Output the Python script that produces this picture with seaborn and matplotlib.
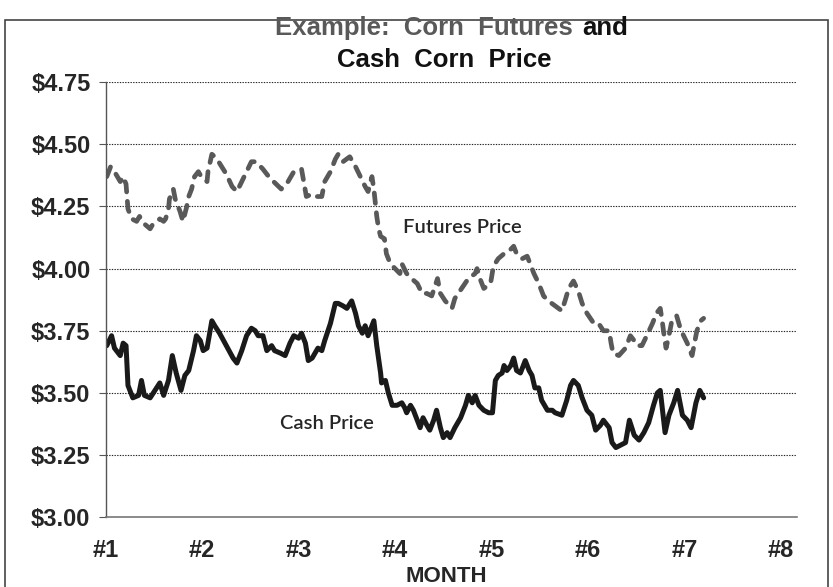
import matplotlib
matplotlib.use("Agg")
import matplotlib.pyplot as plt
import seaborn as sns
from matplotlib.patches import Rectangle

# Futures price (month position, $/bu)
fut_month = [1.01, 1.05, 1.09, 1.15, 1.18, 1.21, 1.23, 1.27, 1.32, 1.35, 1.40, 1.46, 1.49, 1.53,
             1.56, 1.60, 1.62, 1.65, 1.66, 1.70, 1.72, 1.75, 1.77, 1.80, 1.84, 1.85, 1.89, 1.92,
             1.96, 1.99, 2.05, 2.06, 2.10, 2.13, 2.17, 2.25, 2.31, 2.36, 2.41, 2.46, 2.51,
             2.53, 2.56, 2.63, 2.69, 2.74, 2.82, 2.89, 2.95, 3.03, 3.08, 3.14, 3.19, 3.24, 3.27,
             3.33, 3.38, 3.41, 3.46, 3.53, 3.59, 3.64, 3.69, 3.72, 3.76, 3.78, 3.81, 3.83, 3.85,
             3.89, 3.91, 3.95, 4.05, 4.07, 4.12, 4.17, 4.23, 4.28, 4.33, 4.38, 4.44, 4.47, 4.52,
             4.59, 4.62, 4.69, 4.76, 4.83, 4.85, 4.88, 4.92, 4.99, 5.02, 5.07, 5.13, 5.18, 5.23,
             5.26, 5.32, 5.37, 5.40, 5.44, 5.49, 5.54, 5.59, 5.66, 5.73, 5.77, 5.80, 5.85, 5.90,
             5.94, 5.99, 6.06, 6.11, 6.16, 6.22, 6.24, 6.26, 6.32, 6.39, 6.44, 6.48, 6.51, 6.56,
             6.61, 6.67, 6.71, 6.75, 6.77, 6.79, 6.81, 6.84, 6.87, 6.92, 6.95, 6.98, 7.03, 7.08,
             7.10, 7.13, 7.17, 7.20]
fut_price = [4.37, 4.41, 4.39, 4.35, 4.37, 4.34, 4.24, 4.20, 4.19, 4.21, 4.18, 4.16, 4.18, 4.19,
             4.20, 4.19, 4.20, 4.24, 4.28, 4.32, 4.28, 4.25, 4.23, 4.19, 4.25, 4.28, 4.32, 4.37,
             4.39, 4.37, 4.35, 4.39, 4.46, 4.45, 4.43, 4.38, 4.33, 4.31, 4.35, 4.39, 4.43,
             4.43, 4.43, 4.40, 4.37, 4.35, 4.32, 4.35, 4.39, 4.40, 4.29, 4.30, 4.29, 4.29, 4.35,
             4.39, 4.44, 4.46, 4.43, 4.45, 4.41, 4.37, 4.33, 4.31, 4.37, 4.32, 4.21, 4.16, 4.13,
             4.12, 4.06, 4.02, 3.98, 4.02, 3.98, 3.96, 3.94, 3.90, 3.90, 3.89, 3.96, 3.90, 3.87,
             3.84, 3.88, 3.92, 3.96, 3.98, 4.00, 3.96, 3.92, 3.94, 4.01, 4.04, 4.06, 4.07, 4.09,
             4.06, 4.04, 4.05, 4.02, 3.98, 3.94, 3.89, 3.87, 3.85, 3.83, 3.88, 3.92, 3.95, 3.91,
             3.86, 3.82, 3.78, 3.78, 3.75, 3.75, 3.70, 3.66, 3.65, 3.68, 3.73, 3.71, 3.69, 3.69,
             3.73, 3.78, 3.82, 3.84, 3.79, 3.73, 3.68, 3.73, 3.79, 3.81, 3.77, 3.74, 3.70, 3.65,
             3.69, 3.75, 3.79, 3.80]

# Cash price (month position, $/bu)
cash_month = [1.01, 1.06, 1.09, 1.15, 1.18, 1.21, 1.23, 1.28, 1.34, 1.37, 1.40, 1.46, 1.51, 1.56,
              1.60, 1.65, 1.69, 1.73, 1.78, 1.82, 1.86, 1.91, 1.94, 1.98, 2.01, 2.05, 2.10, 2.13,
              2.18, 2.25, 2.32, 2.36, 2.41, 2.46, 2.51, 2.55, 2.58, 2.63, 2.67, 2.72, 2.75, 2.81,
              2.86, 2.91, 2.95, 3.00, 3.03, 3.07, 3.10, 3.14, 3.17, 3.20, 3.24, 3.27, 3.33, 3.38,
              3.41, 3.46, 3.50, 3.55, 3.59, 3.62, 3.66, 3.69, 3.72, 3.78, 3.81, 3.85, 3.86, 3.90,
              3.93, 3.97, 4.02, 4.07, 4.10, 4.12, 4.16, 4.19, 4.23, 4.26, 4.29, 4.33, 4.36, 4.40,
              4.43, 4.47, 4.50, 4.54, 4.57, 4.62, 4.68, 4.73, 4.76, 4.80, 4.83, 4.87, 4.92, 4.97,
              5.01, 5.04, 5.07, 5.11, 5.13, 5.16, 5.20, 5.23, 5.26, 5.30, 5.35, 5.39, 5.42, 5.45,
              5.49, 5.52, 5.58, 5.63, 5.66, 5.73, 5.78, 5.82, 5.85, 5.90, 5.94, 5.99, 6.04, 6.08,
              6.13, 6.16, 6.22, 6.25, 6.29, 6.34, 6.39, 6.43, 6.48, 6.53, 6.58, 6.63, 6.68, 6.72,
              6.75, 6.80, 6.84, 6.89, 6.93, 6.98, 7.03, 7.07, 7.12, 7.16, 7.20]
cash_price = [3.69, 3.73, 3.68, 3.65, 3.70, 3.69, 3.53, 3.48, 3.49, 3.55, 3.49, 3.48, 3.51, 3.54,
              3.49, 3.55, 3.65, 3.58, 3.51, 3.57, 3.59, 3.67, 3.73, 3.71, 3.67, 3.68, 3.79, 3.77,
              3.74, 3.69, 3.64, 3.62, 3.67, 3.73, 3.76, 3.75, 3.73, 3.73, 3.67, 3.69, 3.67, 3.66,
              3.65, 3.70, 3.73, 3.72, 3.74, 3.70, 3.63, 3.64, 3.66, 3.68, 3.67, 3.71, 3.78, 3.86,
              3.86, 3.85, 3.84, 3.87, 3.82, 3.77, 3.74, 3.77, 3.73, 3.79, 3.69, 3.58, 3.54, 3.55,
              3.50, 3.45, 3.45, 3.46, 3.44, 3.42, 3.45, 3.43, 3.39, 3.36, 3.40, 3.37, 3.35, 3.39,
              3.43, 3.36, 3.32, 3.34, 3.32, 3.36, 3.40, 3.45, 3.49, 3.46, 3.49, 3.45, 3.43, 3.42,
              3.42, 3.55, 3.57, 3.58, 3.61, 3.59, 3.61, 3.64, 3.59, 3.58, 3.63, 3.59, 3.57, 3.52,
              3.52, 3.47, 3.43, 3.43, 3.42, 3.41, 3.47, 3.53, 3.55, 3.53, 3.48, 3.43, 3.41, 3.35,
              3.37, 3.39, 3.36, 3.30, 3.28, 3.29, 3.30, 3.39, 3.33, 3.31, 3.34, 3.38, 3.45, 3.50,
              3.51, 3.34, 3.41, 3.46, 3.51, 3.41, 3.39, 3.36, 3.46, 3.51, 3.48]

month_ticks = [1, 2, 3, 4, 5, 6, 7, 8]
month_labels = ["#1", "#2", "#3", "#4", "#5", "#6", "#7", "#8"]
price_ticks = [3.00, 3.25, 3.50, 3.75, 4.00, 4.25, 4.50, 4.75]

sns.set_style("white")
narrow = ["Liberation Sans Narrow", "Liberation Sans", "DejaVu Sans"]
plt.rcParams["font.family"] = narrow

fig = plt.figure(figsize=(8.33, 5.87), dpi=100)
ax = fig.add_axes([0.127, 0.119, 0.830, 0.741])

sns.lineplot(x=fut_month, y=fut_price, ax=ax, color="#595959", linewidth=3.4,
             linestyle=(0, (2.2, 2.0)), dash_capstyle="round", sort=False)
sns.lineplot(x=cash_month, y=cash_price, ax=ax, color="#1a1a1a", linewidth=3.6,
             solid_joinstyle="round", sort=False)

ax.set_xlim(1, 8.17)
ax.set_ylim(3.0, 4.75)
ax.set_yticks(price_ticks)
ax.set_yticklabels(["${:.2f}".format(v) for v in price_ticks], fontsize=17, fontweight="bold")
ax.set_xticks(month_ticks)
ax.set_xticklabels(month_labels, fontsize=17, fontweight="bold")
ax.set_xlabel("MONTH", fontsize=16, fontweight="bold")
ax.xaxis.set_label_coords(0.493, -0.112)
ax.set_ylabel("")

for v in price_ticks[1:]:
    ax.axhline(v, color="#222222", linewidth=0.8, linestyle=(0, (1.2, 1.2)), zorder=0)

for side in ["top", "right"]:
    ax.spines[side].set_visible(False)
ax.spines["left"].set_color("#555555")
ax.spines["bottom"].set_color("#777777")
ax.spines["left"].set_linewidth(1.0)
ax.spines["bottom"].set_linewidth(1.2)
ax.tick_params(axis="y", length=5, width=0.8, color="#555555", pad=6, direction="out", left=True)
ax.tick_params(axis="x", length=0, pad=16)

ann = ["Lato", "DejaVu Sans"]
ax.text(4.70, 4.165, "Futures Price", fontsize=14.5, fontweight="semibold", family=ann,
        ha="center", va="center")
ax.text(3.29, 3.375, "Cash Price", fontsize=14.5, fontweight="semibold", family=ann,
        ha="center", va="center")

# two-colour title
fig.text(0.687, 0.952, "Example:  Corn  Futures", color="#595959", fontsize=18.5,
         fontweight="bold", ha="right", va="center")
fig.text(0.699, 0.952, "and", color="#111111", fontsize=18.5, fontweight="bold",
         ha="left", va="center")
fig.text(0.533, 0.897, "Cash  Corn  Price", color="#111111", fontsize=18.5, fontweight="bold",
         ha="center", va="center")

fig.patches.append(Rectangle((0.006, -0.02), 0.988, 1.006 - 0.02, transform=fig.transFigure,
                             fill=False, edgecolor="#444444", linewidth=1.2))

fig.savefig("out.png", dpi=100)
